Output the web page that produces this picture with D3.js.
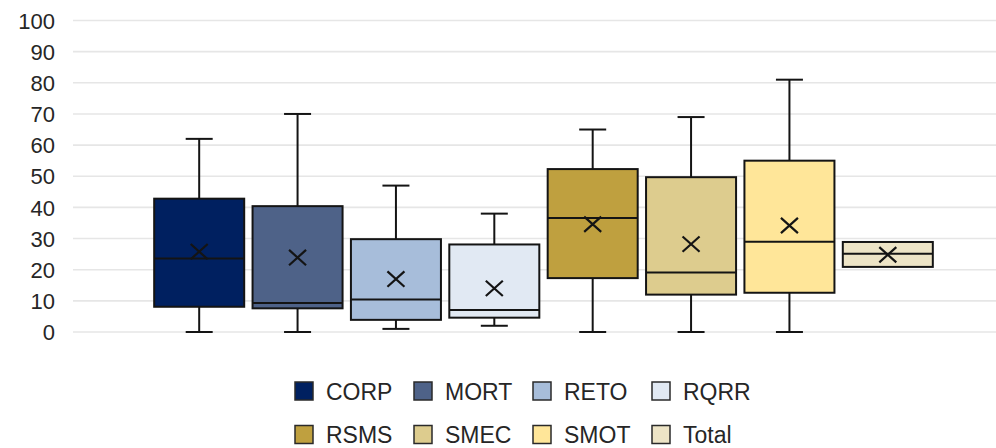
<!DOCTYPE html>
<html>
<head>
<meta charset="utf-8">
<script src="https://cdn.jsdelivr.net/npm/d3@7"></script>
<style>
  html, body { margin: 0; padding: 0; background: #fff; }
  svg { display: block; font-family: "Liberation Sans", Arial, sans-serif; }
</style>
</head>
<body>
<svg id="chart" width="996" height="448"></svg>
<script>
// ---- data ----
const categories = ["CORP", "MORT", "RETO", "RQRR", "RSMS", "SMEC", "SMOT", "Total"];
const minValues    = [0,    0,    1,    2,    0,    0,    0,    21];
const q1Values     = [8.1,  7.6,  3.9,  4.6,  17.3, 12.0, 12.6, 20.9];
const medianValues = [23.6, 9.3,  10.4, 7.1,  36.6, 19.1, 29.0, 25.1];
const q3Values     = [42.8, 40.4, 29.8, 28.1, 52.3, 49.7, 55.0, 28.9];
const maxValues    = [62,   70,   47,   38,   65,   69,   81,   28.9];
const meanValues   = [25.8, 23.9, 17.0, 14.0, 34.6, 28.2, 34.2, 24.8];
const colors = ["#002060", "#4E6288", "#A7BDDA", "#E1E9F3", "#BFA03F", "#DDCC8E", "#FFE699", "#EDE4C6"];
const yTicks = [0, 10, 20, 30, 40, 50, 60, 70, 80, 90, 100];

const svg = d3.select("#chart");

const y = d3.scaleLinear().domain([0, 100]).range([332, 20.5]);
const x = d3.scaleBand().domain(categories).range([150, 937])
  .paddingInner(0.085).paddingOuter(0.0425);

// gridlines
svg.append("g").selectAll("line").data(yTicks).join("line")
  .attr("x1", 73).attr("x2", 996)
  .attr("y1", d => y(d)).attr("y2", d => y(d))
  .attr("stroke", "#e6e6e6").attr("stroke-width", 1.6);

// y axis labels
const yAxis = d3.axisLeft(y).tickValues(yTicks).tickSize(0).tickPadding(0);
const ya = svg.append("g").attr("transform", "translate(55,0)").call(yAxis);
ya.select(".domain").remove();
ya.selectAll("text").attr("font-size", 22).attr("fill", "#262626")
  .attr("font-family", "Liberation Sans, Arial, sans-serif").attr("dy", "0.35em");

const data = categories.map((c, i) => ({
  c, min: minValues[i], q1: q1Values[i], med: medianValues[i], q3: q3Values[i],
  max: maxValues[i], mean: meanValues[i], color: colors[i]
}));

const stroke = "#141414";
const g = svg.append("g");
const items = g.selectAll("g.box").data(data).join("g").attr("class", "box");

const cx = d => x(d.c) + x.bandwidth() / 2;
const capW = 27;

// whiskers
items.filter(d => d.max > d.q3).append("line")
  .attr("x1", cx).attr("x2", cx).attr("y1", d => y(d.q3)).attr("y2", d => y(d.max))
  .attr("stroke", stroke).attr("stroke-width", 2);
items.filter(d => d.max > d.q3).append("line")
  .attr("x1", d => cx(d) - capW / 2).attr("x2", d => cx(d) + capW / 2)
  .attr("y1", d => y(d.max)).attr("y2", d => y(d.max))
  .attr("stroke", stroke).attr("stroke-width", 2);
items.filter(d => d.min < d.q1).append("line")
  .attr("x1", cx).attr("x2", cx).attr("y1", d => y(d.q1)).attr("y2", d => y(d.min))
  .attr("stroke", stroke).attr("stroke-width", 2);
items.filter(d => d.min < d.q1).append("line")
  .attr("x1", d => cx(d) - capW / 2).attr("x2", d => cx(d) + capW / 2)
  .attr("y1", d => y(d.min)).attr("y2", d => y(d.min))
  .attr("stroke", stroke).attr("stroke-width", 2);

// boxes
items.append("rect")
  .attr("x", d => x(d.c)).attr("width", x.bandwidth())
  .attr("y", d => y(d.q3)).attr("height", d => y(d.q1) - y(d.q3))
  .attr("fill", d => d.color).attr("stroke", stroke).attr("stroke-width", 2);

// median
items.append("line")
  .attr("x1", d => x(d.c)).attr("x2", d => x(d.c) + x.bandwidth())
  .attr("y1", d => y(d.med)).attr("y2", d => y(d.med))
  .attr("stroke", stroke).attr("stroke-width", 2);

// mean markers (X)
const mk = 8.5;
items.append("path")
  .attr("d", d => {
    const px = cx(d), py = y(d.mean);
    return `M${px - mk},${py - mk * 0.9}L${px + mk},${py + mk * 0.9}M${px - mk},${py + mk * 0.9}L${px + mk},${py - mk * 0.9}`;
  })
  .attr("stroke", stroke).attr("stroke-width", 2.2).attr("fill", "none");

// legend
const legend = svg.append("g");
const li = legend.selectAll("g").data(data).join("g")
  .attr("transform", (d, i) => `translate(${295 + (i % 4) * 119},${i < 4 ? 382 : 425.5})`);
li.append("rect").attr("width", 18).attr("height", 18)
  .attr("fill", d => d.color).attr("stroke", "#2a2a2a").attr("stroke-width", 1.5);
li.append("text").attr("x", 31).attr("y", 17.5)
  .attr("font-size", 23).attr("fill", "#262626").text(d => d.c);
</script>
</body>
</html>
